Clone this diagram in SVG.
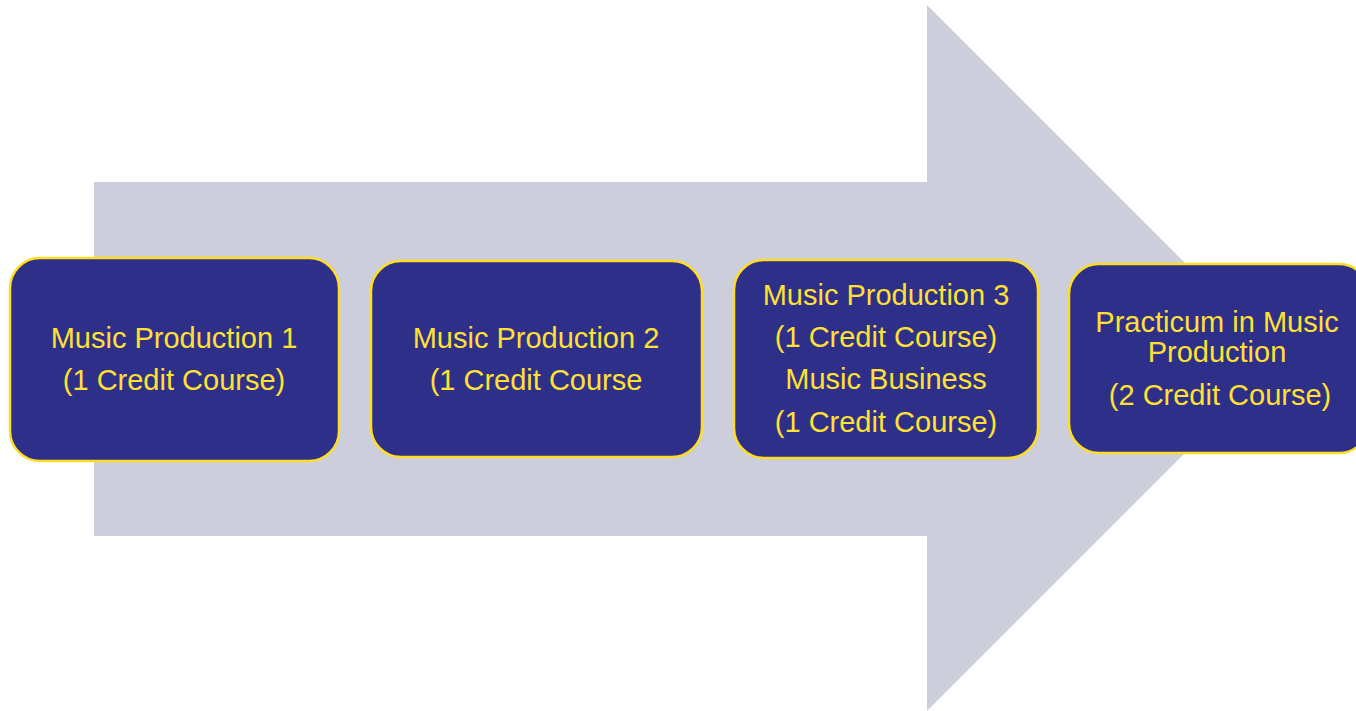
<svg xmlns="http://www.w3.org/2000/svg" width="1356" height="711" viewBox="0 0 1356 711">
<style>
.box{fill:#2E2F88;stroke:#FFDD22;stroke-width:2.5}
.t{font-family:"Liberation Sans",Arial,sans-serif;font-size:29px;fill:#FFE033;text-anchor:middle}
</style>
<rect width="1356" height="711" fill="#FFFFFF"/>
<g id="arrow">
<polygon points="94,182 927,182 927,5 1280,358 927,711 927,536 94,536" fill="#CDCEDB"/>
</g>
<g id="connectors"></g>
<g id="node1">
<rect class="box" x="10" y="258" width="329" height="203" rx="30"/>
<text class="t" x="174" y="348">Music Production 1</text>
<text class="t" x="174" y="390">(1 Credit Course)</text>
</g>
<g id="node2">
<rect class="box" x="371" y="261" width="331" height="196" rx="30"/>
<text class="t" x="536" y="348">Music Production 2</text>
<text class="t" x="536" y="390">(1 Credit Course</text>
</g>
<g id="node3">
<rect class="box" x="734" y="260" width="304" height="198" rx="30"/>
<text class="t" x="886" y="305">Music Production 3</text>
<text class="t" x="886" y="347">(1 Credit Course)</text>
<text class="t" x="886" y="389">Music Business</text>
<text class="t" x="886" y="432">(1 Credit Course)</text>
</g>
<g id="node4">
<rect class="box" x="1069" y="264" width="300" height="189" rx="30"/>
<text class="t" x="1217" y="332">Practicum in Music</text>
<text class="t" x="1217" y="362">Production</text>
<text class="t" x="1220" y="405">(2 Credit Course)</text>
</g>
</svg>
